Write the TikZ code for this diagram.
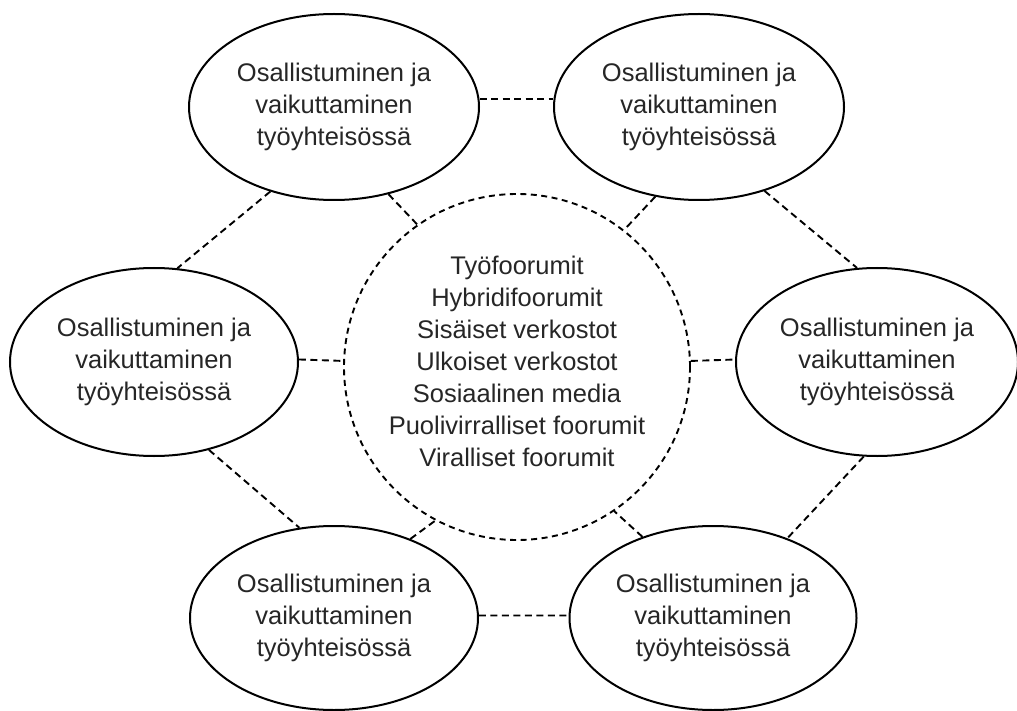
\documentclass[tikz,border=0pt]{standalone}
\usepackage{fontspec}
\setmainfont{Liberation Sans}
\usetikzlibrary{shapes.geometric}
\begin{document}
\begin{tikzpicture}[x=1pt,y=-1pt,
  oval/.style={draw=black, line width=2pt, ellipse, inner sep=0pt,
    minimum width=290pt, minimum height=186pt, align=center,
    text=black!85, font=\fontsize{25.5}{32}\selectfont},
  hub/.style={draw=black, line width=1.9pt, dash pattern=on 6pt off 4.5pt, circle, inner sep=0pt,
    minimum size=346pt},
  hubtext/.style={align=center, text=black!85, font=\fontsize{25.5}{32}\selectfont, inner sep=0pt},
  link/.style={draw=black, line width=1.9pt, dash pattern=on 7pt off 4.5pt}]
\useasboundingbox (0,0) rectangle (1017,711);
\node[hub] (c) at (517,367) {};
\node[hubtext] (ct) at (517,361) {Työfoorumit\\Hybridifoorumit\\Sisäiset verkostot\\Ulkoiset verkostot\\Sosiaalinen media\\Puolivirralliset foorumit\\Viralliset foorumit};
\node[oval] (tl) at (334,107) {Osallistuminen ja\\vaikuttaminen\\työyhteisössä};
\node[oval] (tr) at (699,107) {Osallistuminen ja\\vaikuttaminen\\työyhteisössä};
\node[oval, minimum width=288pt, minimum height=188pt] (ml) at (154,362) {Osallistuminen ja\\vaikuttaminen\\työyhteisössä};
\node[oval, minimum width=282pt, minimum height=188pt] (mr) at (877,362) {Osallistuminen ja\\vaikuttaminen\\työyhteisössä};
\node[oval, minimum width=288pt, minimum height=184pt] (bl) at (334,618) {Osallistuminen ja\\vaikuttaminen\\työyhteisössä};
\node[oval, minimum width=287pt, minimum height=184pt] (br) at (713,618) {Osallistuminen ja\\vaikuttaminen\\työyhteisössä};
% outer ring
\draw[link] (tl.3) -- (tr.177);
\draw[link] (tl.233) -- (ml.76);
\draw[link] (tr.308.7) -- (mr.102);
\draw[link] (ml.302.5) -- (bl.111.4);
\draw[link] (mr.262) -- (br.47.7);
\draw[link] (bl.1) -- (br.179);
% spokes
\draw[link] (tl.302) -- (c.125.3);
\draw[link] (tr.244) -- (c.52);
\draw[link] (ml.1) -- (c.178);
\draw[link] (c.2) -- (mr.179);
\draw[link] (bl.46.5) -- (c.242.5);
\draw[link] (br.131.9) -- (c.304.4);
\end{tikzpicture}
\end{document}
